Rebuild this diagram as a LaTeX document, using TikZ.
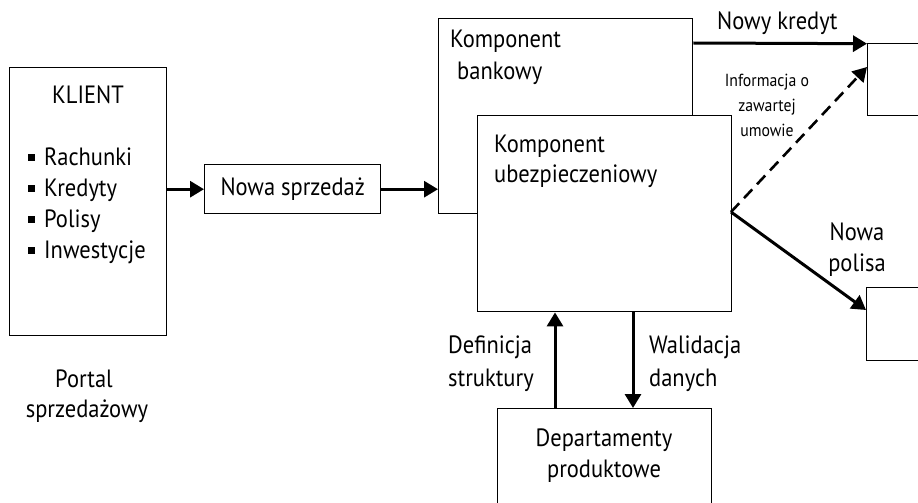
\documentclass[tikz,border=0pt]{standalone}
\usepackage{fontspec}
\setmainfont[FakeStretch=0.9]{PT Sans}
\usetikzlibrary{arrows.meta}
\newcommand\sqbul{\rule[4pt]{7pt}{7.5pt}\hspace{9pt}}
\begin{document}
\begin{tikzpicture}[x=1pt,y=-1pt,
  box/.style={draw, line width=1.4pt, fill=white, inner sep=0pt, anchor=north west},
  txt/.style={inner sep=0pt, font=\fontsize{25}{31}\selectfont},
  small/.style={inner sep=0pt, font=\fontsize{17.5}{24}\selectfont},
  arr/.style={line width=3pt, -{Triangle[length=14pt,width=16pt]}},
  darr/.style={line width=2.6pt, dash pattern=on 12pt off 7pt, -{Triangle[length=14pt,width=16pt]}},
]
\useasboundingbox (0,0) rectangle (918,503);
\clip (0,0) rectangle (918,503);
% boxes
\node[box, minimum width=157pt, minimum height=268pt] (klient) at (9,67) {};
\node[box, minimum width=176pt, minimum height=49pt] (sprz) at (204,164) {};
\node[box, minimum width=254pt, minimum height=195pt] (bank) at (438,18) {};
\node[box, minimum width=254pt, minimum height=196pt] (ubez) at (477,115) {};
\node[box, minimum width=214pt, minimum height=130pt] (dep) at (497,408) {};
\node[box, minimum width=100pt, minimum height=72pt] (rk) at (867,43) {};
\node[box, minimum width=100pt, minimum height=73pt] (rp) at (866,287) {};
% texts
\node[txt, anchor=base] (tkl) at (88,103) {KLIENT};
\node[txt, anchor=base west] (r1) at (28,165) {\sqbul Rachunki};
\node[txt, anchor=base west] (r2) at (28,196) {\sqbul Kredyty};
\node[txt, anchor=base west] (r3) at (28,227) {\sqbul Polisy};
\node[txt, anchor=base west] (r4) at (28,258) {\sqbul Inwestycje};
\node[txt, anchor=base] (p1) at (84,387) {Portal};
\node[txt, anchor=base] (p2) at (87,417) {sprzedażowy};
\node[txt] (tsp) at (sprz.center) {Nowa sprzedaż};
\node[txt, anchor=base west] (b1) at (450,48) {Komponent};
\node[txt, anchor=base west] (b2) at (457,80) {bankowy};
\node[txt, anchor=base west] (u1) at (494,152) {Komponent};
\node[txt, anchor=base west] (u2) at (494,182) {ubezpieczeniowy};
\node[txt, anchor=base] (d1) at (604,446) {Departamenty};
\node[txt, anchor=base] (d2) at (604,477) {produktowe};
\node[txt, anchor=base west] (df1) at (448,353) {Definicja};
\node[txt, anchor=base west] (df2) at (448,386) {struktury};
\node[txt, anchor=base west] (w1) at (649,353) {Walidacja};
\node[txt, anchor=base west] (w2) at (649,386) {danych};
\node[txt, anchor=base west] (nk) at (717,30) {Nowy kredyt};
\node[small, anchor=base] (i1) at (767,86) {Informacja o};
\node[small, anchor=base] (i2) at (767,111) {zawartej};
\node[small, anchor=base] (i3) at (767,136) {umowie};
\node[txt, anchor=base] (np1) at (857,240) {Nowa};
\node[txt, anchor=base] (np2) at (857,271) {polisa};
% connectors
\coordinate (ko) at (731,212);
\draw[arr] (klient.east |- sprz.west) -- (sprz.west);
\draw[arr] (sprz.east) -- (bank.west |- sprz.east);
\draw[arr] (bank.east |- rk.north west) -- ([yshift=-0.7pt]rk.north west);
\draw[darr] (ko) -- ([yshift=-24pt]rk.north west);
\draw[arr] (ko) -- ([yshift=-23pt]rp.north west);
\draw[arr] (dep.north -| 555,0) -- (ubez.south -| 555,0);
\draw[arr] (ubez.south -| 633,0) -- (dep.north -| 633,0);
\end{tikzpicture}
\end{document}
